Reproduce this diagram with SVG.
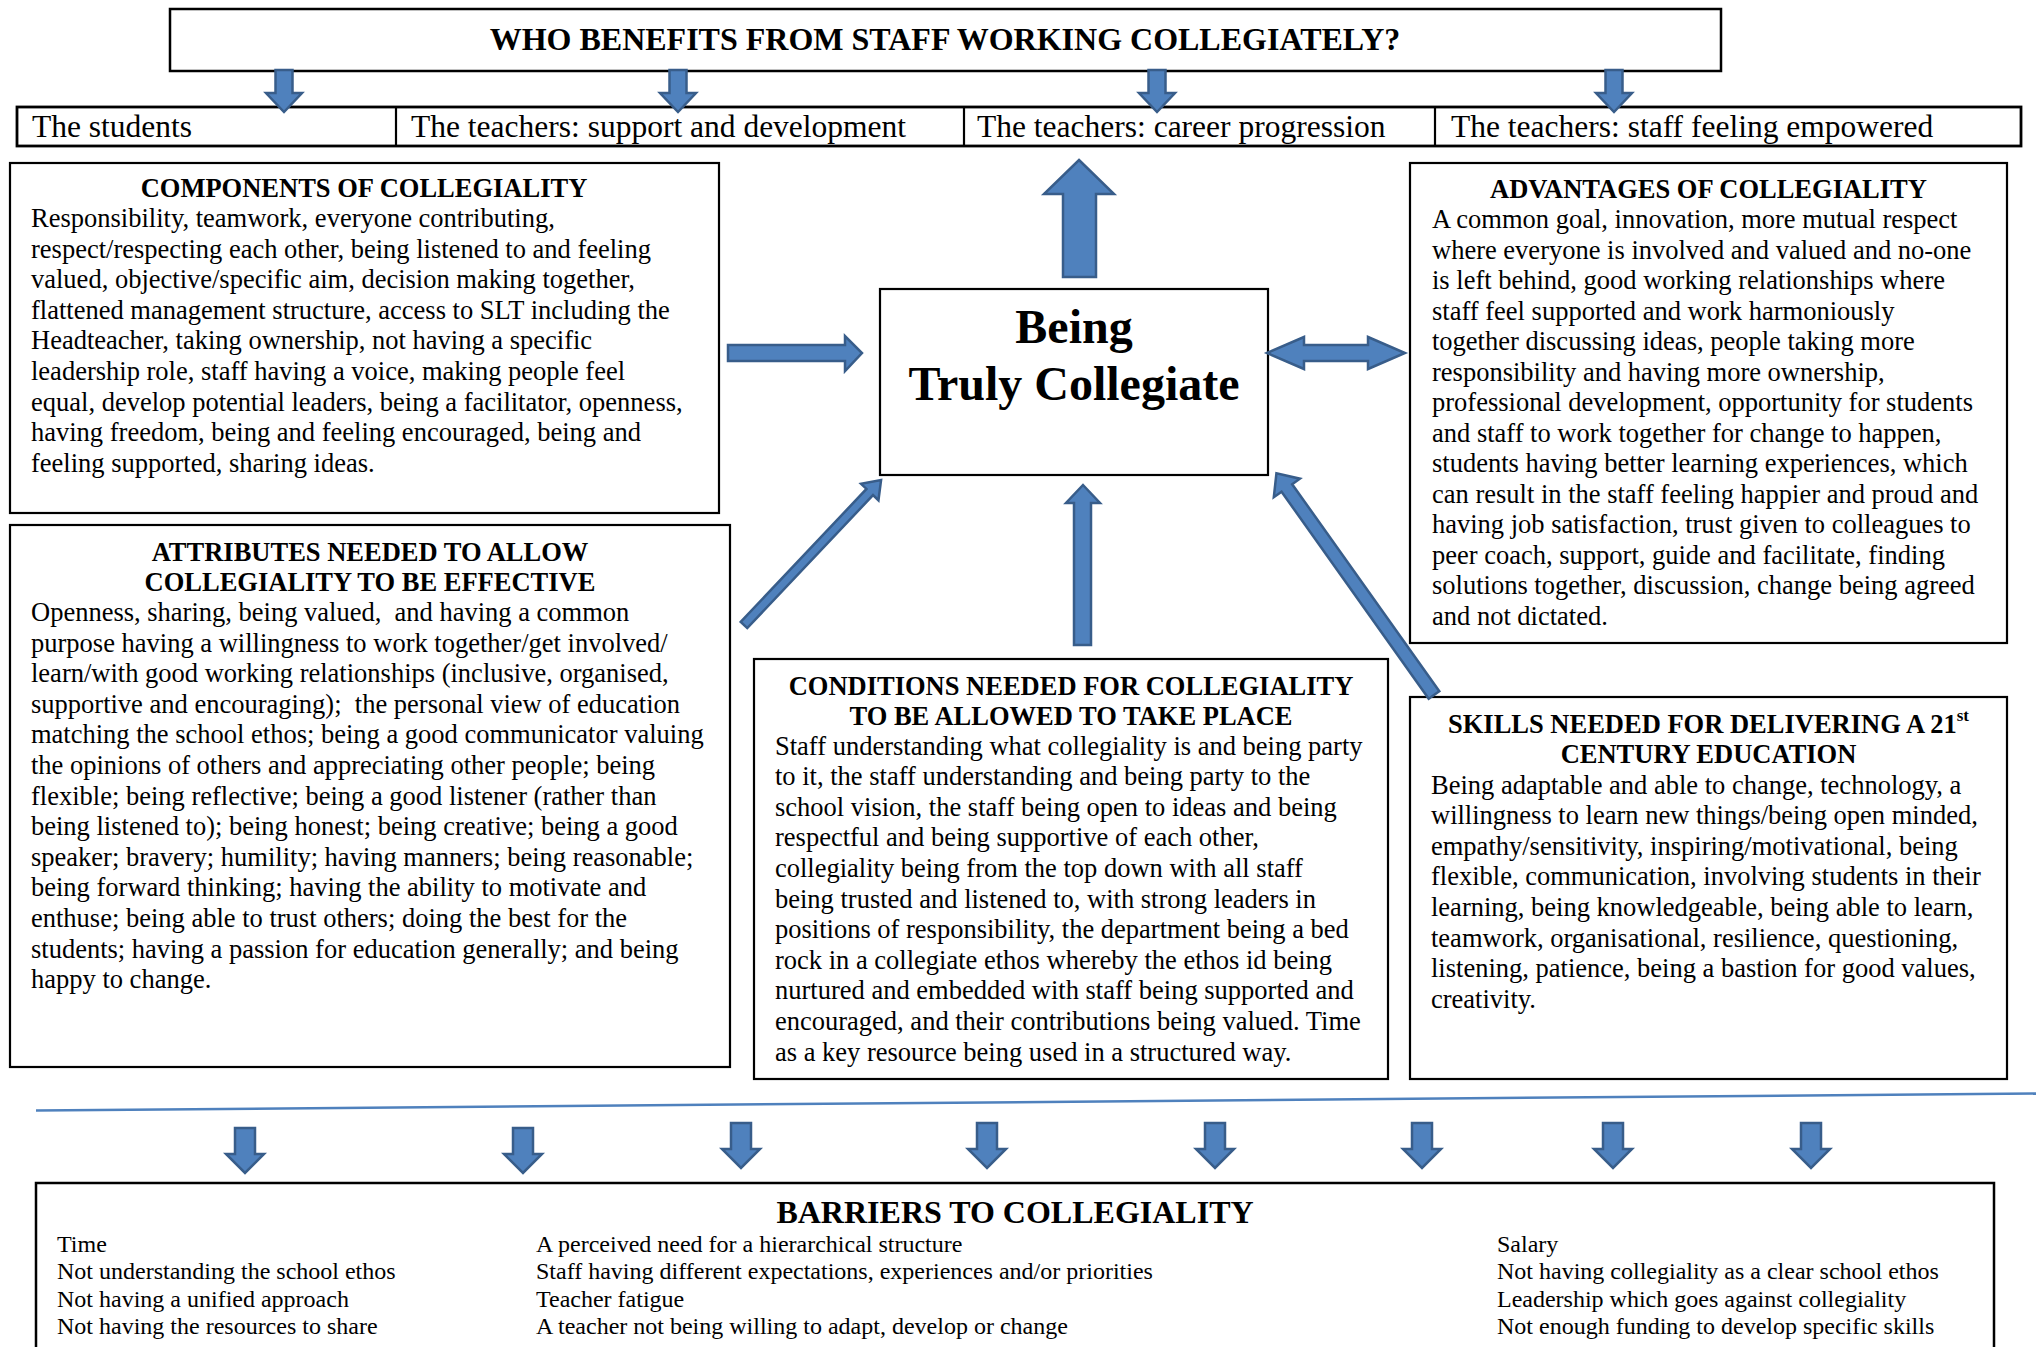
<svg xmlns="http://www.w3.org/2000/svg" width="2036" height="1347" viewBox="0 0 2036 1347">
<style>
.box{fill:#fff;stroke:#000;stroke-width:2.2}
.row{fill:#fff;stroke:#000;stroke-width:2.8}
.arr{fill:#4F81BD;stroke:#385D8A;stroke-width:2.5;stroke-linejoin:miter}
.h{font-family:"Liberation Serif","Times New Roman",serif;font-weight:bold;font-size:26.5px;fill:#000;text-anchor:middle}
.b{font-family:"Liberation Serif","Times New Roman",serif;font-size:26.5px;fill:#000}
.ben{font-family:"Liberation Serif","Times New Roman",serif;font-size:31.5px;fill:#000}
.bar{font-family:"Liberation Serif","Times New Roman",serif;font-size:24px;fill:#000}
.pre{white-space:pre}
</style>
<defs>
<path id="dTop" d="M-8.5,0 H8.5 V23 H18 L0,42 L-18,23 H-8.5 Z"/>
<path id="dBot" d="M-10,0 H10 V26 H19 L0,45 L-19,26 H-10 Z"/>
</defs>

<g id="title">
<rect class="box" x="170" y="9" width="1551" height="62" style="stroke-width:2.5"/>
<text class="h" x="945" y="50" style="font-size:32px">WHO BENEFITS FROM STAFF WORKING COLLEGIATELY?</text>
</g>

<g id="benefits">
<rect class="row" x="17" y="107" width="2004" height="39"/>
<line x1="396" y1="107" x2="396" y2="146" stroke="#000" stroke-width="2.2"/>
<line x1="964" y1="107" x2="964" y2="146" stroke="#000" stroke-width="2.2"/>
<line x1="1435" y1="107" x2="1435" y2="146" stroke="#000" stroke-width="2.2"/>
<text class="ben" x="32" y="137">The students</text>
<text class="ben" x="411" y="137">The teachers: support and development</text>
<text class="ben" x="977" y="137">The teachers: career progression</text>
<text class="ben" x="1451" y="137">The teachers: staff feeling empowered</text>
</g>

<g id="components">
<rect class="box" x="10" y="163" width="709" height="350"/>
<text class="h" x="364" y="197">COMPONENTS OF COLLEGIALITY</text>
<text class="b" x="31" y="227">Responsibility, teamwork, everyone contributing,</text>
<text class="b" x="31" y="257.6">respect/respecting each other, being listened to and feeling</text>
<text class="b" x="31" y="288.2">valued, objective/specific aim, decision making together,</text>
<text class="b" x="31" y="318.8">flattened management structure, access to SLT including the</text>
<text class="b" x="31" y="349.4">Headteacher, taking ownership, not having a specific</text>
<text class="b" x="31" y="380">leadership role, staff having a voice, making people feel</text>
<text class="b" x="31" y="410.6">equal, develop potential leaders, being a facilitator, openness,</text>
<text class="b" x="31" y="441.2">having freedom, being and feeling encouraged, being and</text>
<text class="b" x="31" y="471.8">feeling supported, sharing ideas.</text>
</g>

<g id="centre">
<rect class="box" x="880" y="289" width="388" height="186"/>
<text class="h" x="1074" y="343" style="font-size:48px">Being</text>
<text class="h" x="1074" y="400" style="font-size:48px">Truly Collegiate</text>
</g>

<g id="advantages">
<rect class="box" x="1410" y="163" width="597" height="480"/>
<text class="h" x="1708.5" y="198">ADVANTAGES OF COLLEGIALITY</text>
<text class="b" x="1432" y="228">A common goal, innovation, more mutual respect</text>
<text class="b" x="1432" y="258.5">where everyone is involved and valued and no-one</text>
<text class="b" x="1432" y="289">is left behind, good working relationships where</text>
<text class="b" x="1432" y="319.5">staff feel supported and work harmoniously</text>
<text class="b" x="1432" y="350">together discussing ideas, people taking more</text>
<text class="b" x="1432" y="380.5">responsibility and having more ownership,</text>
<text class="b" x="1432" y="411">professional development, opportunity for students</text>
<text class="b" x="1432" y="441.5">and staff to work together for change to happen,</text>
<text class="b" x="1432" y="472">students having better learning experiences, which</text>
<text class="b" x="1432" y="502.5">can result in the staff feeling happier and proud and</text>
<text class="b" x="1432" y="533">having job satisfaction, trust given to colleagues to</text>
<text class="b" x="1432" y="563.5">peer coach, support, guide and facilitate, finding</text>
<text class="b" x="1432" y="594">solutions together, discussion, change being agreed</text>
<text class="b" x="1432" y="624.5">and not dictated.</text>
</g>

<g id="attributes">
<rect class="box" x="10" y="525" width="720" height="542"/>
<text class="h" x="370" y="561">ATTRIBUTES NEEDED TO ALLOW</text>
<text class="h" x="370" y="591">COLLEGIALITY TO BE EFFECTIVE</text>
<text class="b pre" x="31" y="621">Openness, sharing, being valued,  and having a common</text>
<text class="b" x="31" y="651.6">purpose having a willingness to work together/get involved/</text>
<text class="b" x="31" y="682.2">learn/with good working relationships (inclusive, organised,</text>
<text class="b pre" x="31" y="712.8">supportive and encouraging);  the personal view of education</text>
<text class="b" x="31" y="743.4">matching the school ethos; being a good communicator valuing</text>
<text class="b" x="31" y="774">the opinions of others and appreciating other people; being</text>
<text class="b" x="31" y="804.6">flexible; being reflective; being a good listener (rather than</text>
<text class="b" x="31" y="835.2">being listened to); being honest; being creative; being a good</text>
<text class="b" x="31" y="865.8">speaker; bravery; humility; having manners; being reasonable;</text>
<text class="b" x="31" y="896.4">being forward thinking; having the ability to motivate and</text>
<text class="b" x="31" y="927">enthuse; being able to trust others; doing the best for the</text>
<text class="b" x="31" y="957.6">students; having a passion for education generally; and being</text>
<text class="b" x="31" y="988.2">happy to change.</text>
</g>

<g id="conditions">
<rect class="box" x="754" y="659" width="634" height="420"/>
<text class="h" x="1071" y="695">CONDITIONS NEEDED FOR COLLEGIALITY</text>
<text class="h" x="1071" y="724.5">TO BE ALLOWED TO TAKE PLACE</text>
<text class="b" x="775" y="754.5">Staff understanding what collegiality is and being party</text>
<text class="b" x="775" y="785.1">to it, the staff understanding and being party to the</text>
<text class="b" x="775" y="815.7">school vision, the staff being open to ideas and being</text>
<text class="b" x="775" y="846.3">respectful and being supportive of each other,</text>
<text class="b" x="775" y="876.9">collegiality being from the top down with all staff</text>
<text class="b" x="775" y="907.5">being trusted and listened to, with strong leaders in</text>
<text class="b" x="775" y="938.1">positions of responsibility, the department being a bed</text>
<text class="b" x="775" y="968.7">rock in a collegiate ethos whereby the ethos id being</text>
<text class="b" x="775" y="999.3">nurtured and embedded with staff being supported and</text>
<text class="b" x="775" y="1029.9">encouraged, and their contributions being valued. Time</text>
<text class="b" x="775" y="1060.5">as a key resource being used in a structured way.</text>
</g>

<g id="skills">
<rect class="box" x="1410" y="697" width="597" height="382"/>
<text class="h" x="1708.5" y="733">SKILLS NEEDED FOR DELIVERING A 21<tspan dy="-12" style="font-size:17px">st</tspan></text>
<text class="h" x="1708.5" y="763">CENTURY EDUCATION</text>
<text class="b" x="1431" y="793.5">Being adaptable and able to change, technology, a</text>
<text class="b" x="1431" y="824.1">willingness to learn new things/being open minded,</text>
<text class="b" x="1431" y="854.7">empathy/sensitivity, inspiring/motivational, being</text>
<text class="b" x="1431" y="885.3">flexible, communication, involving students in their</text>
<text class="b" x="1431" y="915.9">learning, being knowledgeable, being able to learn,</text>
<text class="b" x="1431" y="946.5">teamwork, organisational, resilience, questioning,</text>
<text class="b" x="1431" y="977.1">listening, patience, being a bastion for good values,</text>
<text class="b" x="1431" y="1007.7">creativity.</text>
</g>

<g id="barriers">
<rect class="box" x="36" y="1183" width="1958" height="190" style="stroke-width:2.5"/>
<text class="h" x="1015" y="1223" style="font-size:32px">BARRIERS TO COLLEGIALITY</text>
<text class="bar" x="57" y="1252">Time</text>
<text class="bar" x="57" y="1279.3">Not understanding the school ethos</text>
<text class="bar" x="57" y="1306.6">Not having a unified approach</text>
<text class="bar" x="57" y="1333.9">Not having the resources to share</text>
<text class="bar" x="536" y="1252">A perceived need for a hierarchical structure</text>
<text class="bar" x="536" y="1279.3">Staff having different expectations, experiences and/or priorities</text>
<text class="bar" x="536" y="1306.6">Teacher fatigue</text>
<text class="bar" x="536" y="1333.9">A teacher not being willing to adapt, develop or change</text>
<text class="bar" x="1497" y="1252">Salary</text>
<text class="bar" x="1497" y="1279.3">Not having collegiality as a clear school ethos</text>
<text class="bar" x="1497" y="1306.6">Leadership which goes against collegiality</text>
<text class="bar" x="1497" y="1333.9">Not enough funding to develop specific skills</text>
</g>

<g id="connectors">
<use href="#dTop" class="arr" x="284" y="70"/>
<use href="#dTop" class="arr" x="678" y="70"/>
<use href="#dTop" class="arr" x="1157" y="70"/>
<use href="#dTop" class="arr" x="1614" y="70"/>
<path class="arr" d="M1079,160 L1114,194 H1096 V277 H1063 V194 H1044 Z"/>
<path class="arr" d="M728,345 H845 V336 L862,353 L845,371 V361 H728 Z"/>
<path class="arr" d="M1267,353 L1304,337 V345 H1368 V337 L1405,353 L1368,369 V361 H1304 V369 Z"/>
<path class="arr" d="M1083,485 L1100,503 H1091 V645 H1074 V503 H1066 Z"/>
<path class="arr" transform="translate(744,625) rotate(-46.6)" d="M0,-4.5 H183 V-12 L199.5,0 L183,12 V4.5 H0 Z"/>
<path class="arr" transform="translate(1434,695) rotate(-125.4)" d="M0,-6.5 H254 V-16 L272,0 L254,16 V6.5 H0 Z"/>
<line x1="36" y1="1110.5" x2="2036" y2="1093.5" stroke="#4F81BD" stroke-width="2.5"/>
<use href="#dBot" class="arr" x="245" y="1128"/>
<use href="#dBot" class="arr" x="523" y="1128"/>
<use href="#dBot" class="arr" x="741" y="1123"/>
<use href="#dBot" class="arr" x="987" y="1123"/>
<use href="#dBot" class="arr" x="1215" y="1123"/>
<use href="#dBot" class="arr" x="1422" y="1123"/>
<use href="#dBot" class="arr" x="1613" y="1123"/>
<use href="#dBot" class="arr" x="1811" y="1123"/>
</g>
</svg>
